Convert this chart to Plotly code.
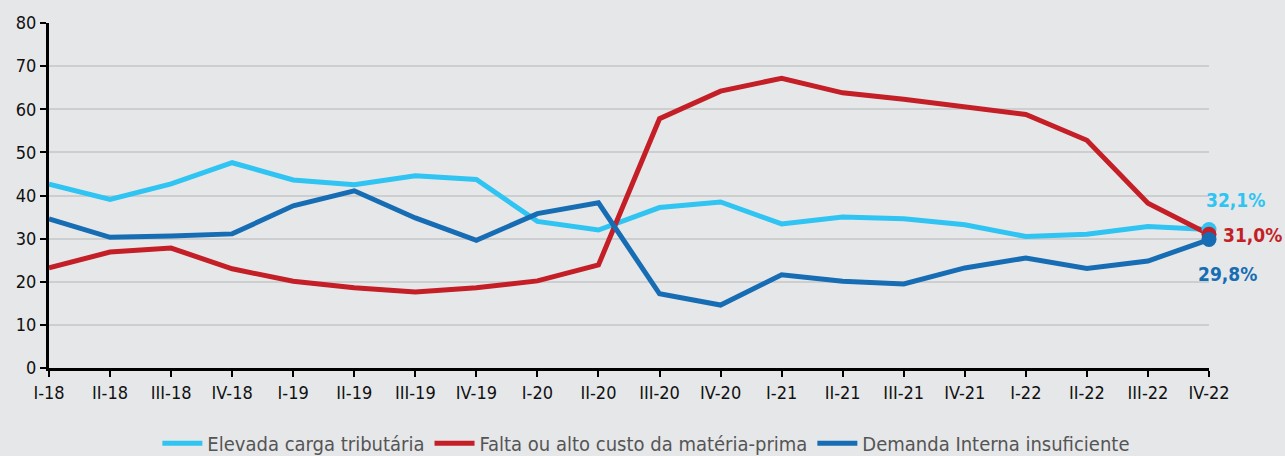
import plotly.graph_objects as go

categories = ["I-18", "II-18", "III-18", "IV-18", "I-19", "II-19", "III-19", "IV-19",
              "I-20", "II-20", "III-20", "IV-20", "I-21", "II-21", "III-21", "IV-21",
              "I-22", "II-22", "III-22", "IV-22"]

carga_tributaria = [42.6, 39.1, 42.7, 47.6, 43.6, 42.5, 44.6, 43.7, 34.0, 32.0,
                    37.2, 38.5, 33.4, 35.0, 34.6, 33.2, 30.5, 31.0, 32.8, 32.1]
materia_prima = [23.2, 26.9, 27.8, 23.0, 20.1, 18.6, 17.6, 18.6, 20.2, 23.9,
                 57.8, 64.2, 67.2, 63.8, 62.3, 60.6, 58.8, 52.8, 38.2, 31.0]
demanda_interna = [34.6, 30.3, 30.6, 31.1, 37.6, 41.1, 34.8, 29.6, 35.8, 38.3,
                   17.2, 14.6, 21.6, 20.1, 19.5, 23.2, 25.5, 23.1, 24.8, 29.8]

names = ["Elevada carga tributária", "Falta ou alto custo da matéria-prima",
         "Demanda Interna insuficiente"]
colors = ["#2FC4F2", "#C41F27", "#176DB4"]
series = [carga_tributaria, materia_prima, demanda_interna]

FONT = "Liberation Sans Narrow, DejaVu Sans Condensed, sans-serif"
xs = list(range(len(categories)))

fig = go.Figure()
for name, col, vals in zip(names, colors, series):
    fig.add_trace(go.Scatter(x=xs, y=vals, mode="lines", name=name,
                             line=dict(color=col, width=5), cliponaxis=False))
for name, col, vals in zip(names, colors, series):
    fig.add_trace(go.Scatter(x=[xs[-1]], y=[vals[-1]], mode="markers", showlegend=False,
                             marker=dict(color=col, size=15), cliponaxis=False,
                             hoverinfo="skip"))

def fmt(v):
    return f"{v:.1f}%".replace(".", ",")

label_offsets = [(26, 30), (43, -1), (18, -35)]
for (dx, dy), col, vals in zip(label_offsets, colors, series):
    fig.add_annotation(x=xs[-1], y=vals[-1], text=f"<b>{fmt(vals[-1])}</b>",
                       showarrow=False, xshift=dx, yshift=dy,
                       font=dict(family=FONT, size=19, color=col))

fig.update_layout(
    width=1285, height=456,
    paper_bgcolor="#E6E7E9", plot_bgcolor="#E6E7E9",
    margin=dict(l=49, r=76, t=23, b=88, autoexpand=False),
    font=dict(family=FONT, color="#111111"),
    showlegend=True,
    legend=dict(orientation="h", x=0.503, xanchor="center", xref="container",
                y=0.028, yanchor="middle", yref="container",
                font=dict(family=FONT, size=20, color="#555555"),
                itemwidth=40, tracegroupgap=0, bgcolor="rgba(0,0,0,0)"),
)
fig.update_xaxes(range=[0, len(categories) - 1], tickvals=xs, ticktext=categories,
                 showgrid=False, zeroline=False, showline=True, linecolor="#000000",
                 linewidth=3, ticks="outside", ticklen=6, tickwidth=2, tickcolor="#000000",
                 tickfont=dict(family=FONT, size=18, color="#111111"))
fig.update_yaxes(range=[0, 80], dtick=10, showgrid=True, gridcolor="#CDCED0", gridwidth=2,
                 zeroline=False, showline=True, linecolor="#000000", linewidth=3,
                 ticks="outside", ticklen=6, tickwidth=2, tickcolor="#000000",
                 tickfont=dict(family=FONT, size=18, color="#111111"))

fig.write_html("out.html", config={"displayModeBar": False},
               post_script="document.body.style.margin='0';")
